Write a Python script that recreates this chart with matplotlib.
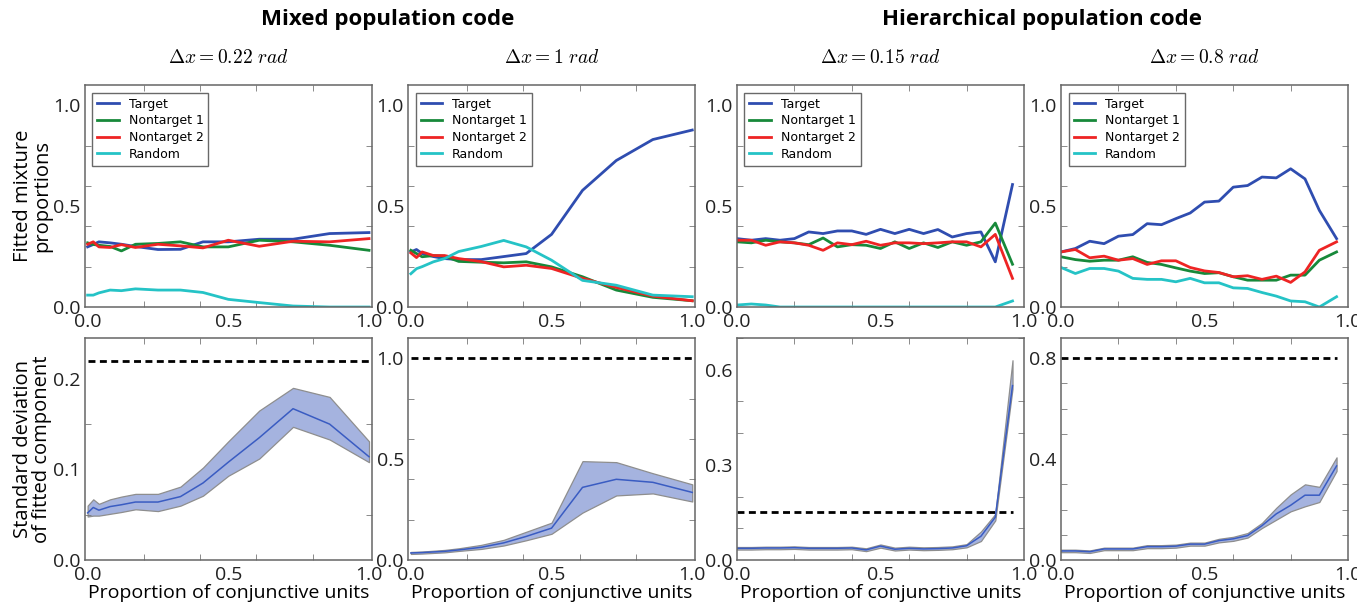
import matplotlib
matplotlib.use("Agg")
import matplotlib.pyplot as plt
from matplotlib.ticker import FixedLocator, MultipleLocator

# Proportion of conjunctive units sampled for each code
x_mixed = [0.0, 0.02, 0.04, 0.08, 0.12, 0.17, 0.25, 0.33, 0.41, 0.5, 0.61, 0.73, 0.86, 1.0]
x_hier = [0.0, 0.05, 0.10, 0.15, 0.20, 0.25, 0.30, 0.35, 0.40, 0.45,
          0.50, 0.55, 0.60, 0.65, 0.70, 0.75, 0.80, 0.85, 0.90, 0.96]

components = ["Target", "Nontarget 1", "Nontarget 2", "Random"]
delta_x = [0.22, 1, 0.15, 0.8]

# Mixed code, dx = 0.22
mix1_target = [0.298, 0.31, 0.323, 0.318, 0.311, 0.30, 0.285, 0.286, 0.323, 0.323, 0.336, 0.336, 0.364, 0.369]
mix1_nt1 = [0.318, 0.31, 0.306, 0.30, 0.278, 0.311, 0.315, 0.323, 0.298, 0.298, 0.331, 0.323, 0.306, 0.281]
mix1_nt2 = [0.311, 0.323, 0.298, 0.295, 0.309, 0.295, 0.311, 0.303, 0.293, 0.331, 0.301, 0.326, 0.323, 0.339]
mix1_random = [0.059, 0.059, 0.07, 0.084, 0.081, 0.09, 0.084, 0.084, 0.072, 0.038, 0.022, 0.005, 0.0, 0.0]
mix1_sd = [0.052, 0.058, 0.055, 0.059, 0.061, 0.064, 0.064, 0.070, 0.085, 0.108, 0.135, 0.167, 0.150, 0.114]
mix1_sd_hi = [0.060, 0.067, 0.062, 0.067, 0.070, 0.073, 0.073, 0.081, 0.102, 0.131, 0.165, 0.190, 0.180, 0.131]
mix1_sd_lo = [0.048, 0.049, 0.049, 0.051, 0.053, 0.056, 0.054, 0.060, 0.071, 0.093, 0.112, 0.147, 0.133, 0.108]

# Mixed code, dx = 1
mix2_target = [0.273, 0.285, 0.265, 0.25, 0.24, 0.235, 0.235, 0.25, 0.265, 0.36, 0.578, 0.726, 0.83, 0.877]
mix2_nt1 = [0.281, 0.265, 0.249, 0.255, 0.252, 0.226, 0.222, 0.219, 0.224, 0.199, 0.15, 0.084, 0.048, 0.031]
mix2_nt2 = [0.268, 0.245, 0.273, 0.255, 0.255, 0.24, 0.225, 0.199, 0.207, 0.191, 0.142, 0.097, 0.054, 0.031]
mix2_random = [0.165, 0.19, 0.20, 0.224, 0.24, 0.275, 0.30, 0.33, 0.298, 0.232, 0.132, 0.108, 0.059, 0.051]
mix2_sd = [0.035, 0.036, 0.037, 0.040, 0.043, 0.050, 0.063, 0.085, 0.117, 0.158, 0.36, 0.40, 0.385, 0.335]
mix2_sd_hi = [0.040, 0.041, 0.042, 0.046, 0.050, 0.058, 0.075, 0.100, 0.140, 0.185, 0.49, 0.485, 0.43, 0.375]
mix2_sd_lo = [0.030, 0.031, 0.032, 0.035, 0.038, 0.045, 0.055, 0.072, 0.098, 0.13, 0.235, 0.32, 0.33, 0.29]

# Hierarchical code, dx = 0.15
hier1_target = [0.339, 0.331, 0.339, 0.331, 0.339, 0.372, 0.364, 0.377, 0.377, 0.36,
                0.385, 0.364, 0.385, 0.364, 0.384, 0.347, 0.364, 0.372, 0.224, 0.607]
hier1_nt1 = [0.323, 0.318, 0.331, 0.323, 0.318, 0.309, 0.342, 0.298, 0.309, 0.306,
             0.29, 0.323, 0.29, 0.318, 0.295, 0.323, 0.306, 0.323, 0.416, 0.212]
hier1_nt2 = [0.331, 0.331, 0.306, 0.323, 0.318, 0.306, 0.281, 0.318, 0.309, 0.326,
             0.306, 0.318, 0.318, 0.314, 0.318, 0.323, 0.323, 0.298, 0.36, 0.142]
hier1_random = [0.01, 0.015, 0.01, 0.0, 0.0, 0.0, 0.0, 0.0, 0.0, 0.0,
                0.0, 0.0, 0.0, 0.0, 0.0, 0.0, 0.0, 0.0, 0.0, 0.03]
hier1_sd = [0.037, 0.037, 0.038, 0.038, 0.039, 0.037, 0.037, 0.037, 0.038, 0.032,
            0.044, 0.034, 0.037, 0.035, 0.036, 0.038, 0.045, 0.075, 0.135, 0.55]
hier1_sd_hi = [0.041, 0.041, 0.042, 0.042, 0.043, 0.041, 0.041, 0.041, 0.042, 0.037,
               0.049, 0.039, 0.042, 0.040, 0.041, 0.043, 0.050, 0.090, 0.145, 0.63]
hier1_sd_lo = [0.033, 0.033, 0.034, 0.034, 0.035, 0.033, 0.033, 0.033, 0.034, 0.028,
               0.039, 0.030, 0.033, 0.031, 0.032, 0.034, 0.040, 0.060, 0.125, 0.54]

# Hierarchical code, dx = 0.8
hier2_target = [0.273, 0.29, 0.326, 0.314, 0.351, 0.359, 0.413, 0.408, 0.438, 0.466,
                0.52, 0.525, 0.594, 0.602, 0.644, 0.64, 0.685, 0.635, 0.479, 0.339]
hier2_nt1 = [0.249, 0.235, 0.227, 0.232, 0.232, 0.249, 0.221, 0.211, 0.194, 0.178,
             0.166, 0.17, 0.15, 0.133, 0.133, 0.133, 0.158, 0.158, 0.232, 0.273]
hier2_nt2 = [0.273, 0.285, 0.244, 0.252, 0.232, 0.24, 0.211, 0.229, 0.229, 0.196,
             0.179, 0.171, 0.15, 0.155, 0.137, 0.153, 0.122, 0.174, 0.281, 0.323]
hier2_random = [0.196, 0.166, 0.191, 0.191, 0.178, 0.142, 0.137, 0.137, 0.125, 0.142,
                0.12, 0.12, 0.095, 0.092, 0.072, 0.054, 0.03, 0.026, 0.0, 0.051]
hier2_sd = [0.036, 0.036, 0.033, 0.044, 0.044, 0.044, 0.053, 0.053, 0.055, 0.063,
            0.063, 0.077, 0.084, 0.097, 0.136, 0.183, 0.217, 0.257, 0.257, 0.373]
hier2_sd_hi = [0.041, 0.041, 0.038, 0.049, 0.049, 0.049, 0.059, 0.059, 0.061, 0.069,
               0.069, 0.084, 0.092, 0.107, 0.147, 0.207, 0.26, 0.30, 0.29, 0.407]
hier2_sd_lo = [0.031, 0.031, 0.028, 0.039, 0.039, 0.039, 0.047, 0.047, 0.049, 0.057,
               0.057, 0.070, 0.076, 0.089, 0.127, 0.16, 0.193, 0.213, 0.23, 0.353]

panels = [
    (x_mixed, [mix1_target, mix1_nt1, mix1_nt2, mix1_random], mix1_sd, mix1_sd_lo, mix1_sd_hi),
    (x_mixed, [mix2_target, mix2_nt1, mix2_nt2, mix2_random], mix2_sd, mix2_sd_lo, mix2_sd_hi),
    (x_hier, [hier1_target, hier1_nt1, hier1_nt2, hier1_random], hier1_sd, hier1_sd_lo, hier1_sd_hi),
    (x_hier, [hier2_target, hier2_nt1, hier2_nt2, hier2_random], hier2_sd, hier2_sd_lo, hier2_sd_hi),
]

# axis settings of the sd row: limits, labelled ticks, tick step
sd_limits = [(0, 0.245), (0, 1.1), (0, 0.7), (0, 0.88)]
sd_labels = [[0.0, 0.1, 0.2], [0.0, 0.5, 1.0], [0.0, 0.3, 0.6], [0.0, 0.4, 0.8]]
sd_steps = [0.05, 0.2, 0.1, 0.1]

colors = ["#2f4db0", "#17893a", "#ee2424", "#25c3c6"]

plt.rcParams["font.family"] = ["Open Sans", "DejaVu Sans"]
plt.rcParams["mathtext.fontset"] = "cm"

fig = plt.figure(figsize=(13.57, 6.07), dpi=100)

lefts = [0.0625, 0.3007, 0.5431, 0.7819]
width = 0.2115
top_bottom, low_bottom, height = 0.4942, 0.0774, 0.3657


def style_axis(ax, xlim, ylim, ylabels, ystep):
    ax.set_xlim(*xlim)
    ax.set_ylim(*ylim)
    ax.xaxis.set_major_locator(FixedLocator([0.0, 0.5, 1.0]))
    ax.xaxis.set_minor_locator(MultipleLocator(0.2))
    ax.yaxis.set_major_locator(FixedLocator(ylabels))
    ax.yaxis.set_minor_locator(MultipleLocator(ystep))
    ax.set_xticklabels(["0.0", "0.5", "1.0"])
    ax.set_yticklabels([f"{v:.1f}" for v in ylabels])
    ax.tick_params(which="major", length=0, labelsize=14, colors="#222222")
    ax.tick_params(axis="x", which="major", pad=4)
    ax.tick_params(axis="y", which="major", pad=3)
    ax.tick_params(which="minor", length=4, direction="in", color="#777777",
                   top=True, right=True)
    for s in ax.spines.values():
        s.set_color("#666666")
        s.set_linewidth(1.1)


for i, (xs, props, sd, lo, hi) in enumerate(panels):
    xlim = (-0.01, 1.01) if i < 2 else (0.0, 1.0)

    # fitted mixture proportions
    ax = fig.add_axes([lefts[i], top_bottom, width, height])
    for name, vals, c in zip(components, props, colors):
        ax.plot(xs, vals, color=c, lw=2, label=name)
    style_axis(ax, xlim, (0, 1.1), [0.0, 0.5, 1.0], 0.2)
    ax.set_title(rf"$\Delta x = {delta_x[i]}\ rad$", fontsize=14, pad=16)
    leg = ax.legend(loc="upper left", fancybox=False, handlelength=1.7,
                    borderpad=0.4, labelspacing=0.3, borderaxespad=0.6,
                    prop={"family": "DejaVu Sans", "size": 9})
    leg.get_frame().set_edgecolor("#444444")
    leg.get_frame().set_linewidth(1.0)

    # standard deviation of the fitted target component
    ax2 = fig.add_axes([lefts[i], low_bottom, width, height])
    ax2.fill_between(xs, lo, hi, facecolor="#a5b3df", edgecolor="#8e8e8e", lw=0.9)
    ax2.plot(xs, sd, color="#3a5cc2", lw=1.1)
    ax2.plot([xs[0], xs[-1]], [delta_x[i], delta_x[i]], color="black", lw=2,
             linestyle=(0, (2.5, 1.6)))
    style_axis(ax2, xlim, sd_limits[i], sd_labels[i], sd_steps[i])
    ax2.set_xlabel("Proportion of conjunctive units", fontsize=14, labelpad=0)

fig.text(0.024, 0.677, "Fitted mixture\nproportions", rotation=90, ha="center",
         va="center", fontsize=14.5, linespacing=0.95)
fig.text(0.024, 0.26, "Standard deviation\nof fitted component", rotation=90,
         ha="center", va="center", fontsize=14.5, linespacing=0.95)

fig.text(0.286, 0.968, "Mixed population code", ha="center", va="center",
         fontsize=16, fontweight="bold")
fig.text(0.768, 0.968, "Hierarchical population code", ha="center", va="center",
         fontsize=16, fontweight="bold")

fig.savefig("out.png", dpi=100)
plt.close(fig)
